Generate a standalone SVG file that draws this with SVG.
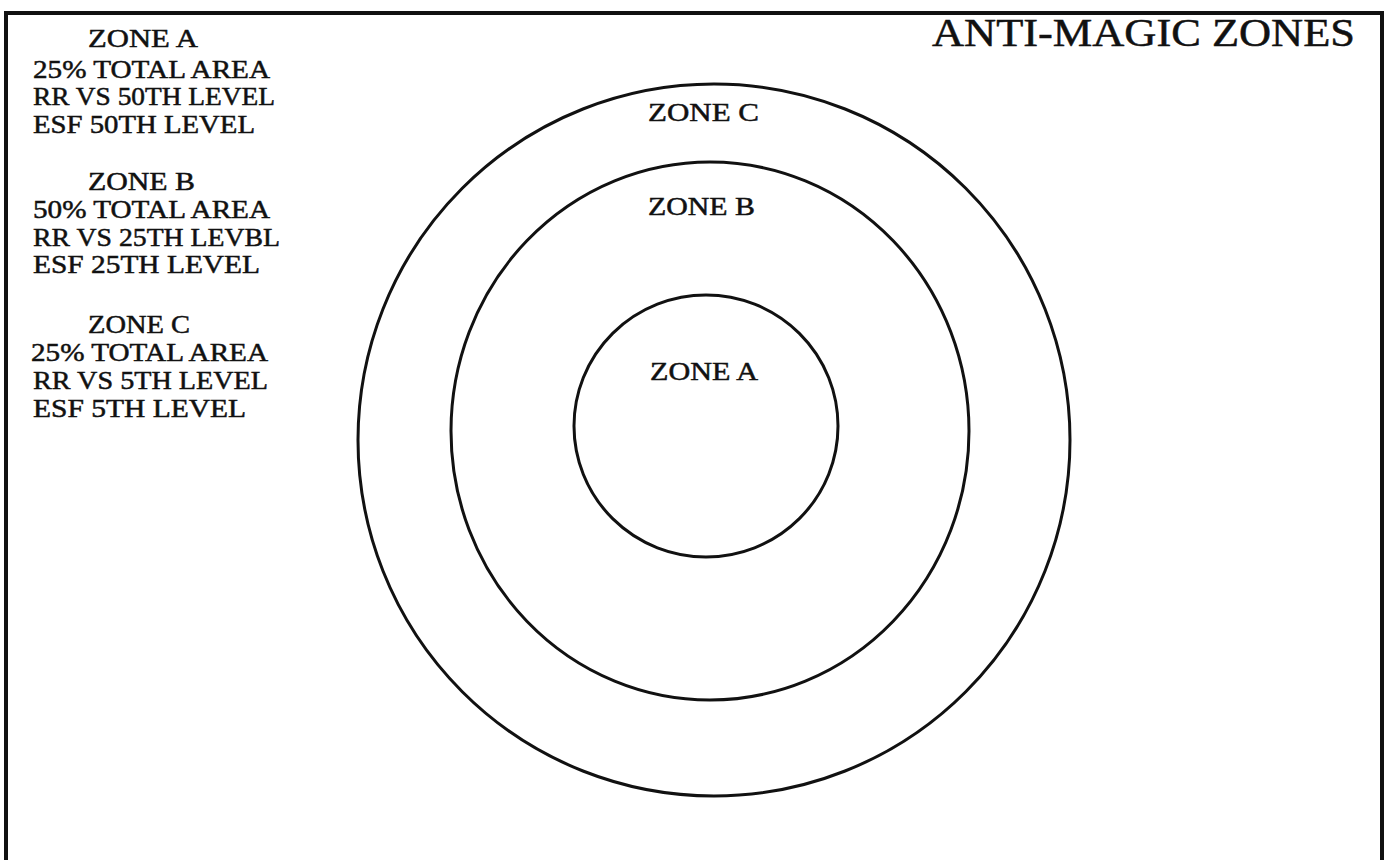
<svg xmlns="http://www.w3.org/2000/svg" width="1391" height="860" viewBox="0 0 1391 860">
<style>
.t{font-family:"Liberation Serif","Times New Roman",serif;font-size:26px;fill:#111;stroke:#111;stroke-width:0.5;}
.c{fill:none;stroke:#111;stroke-width:3;}
.title{font-family:"Liberation Serif","Times New Roman",serif;font-size:40px;fill:#111;stroke:#111;stroke-width:0.5;}
</style>
<rect width="1391" height="860" fill="#fff"/>
<g id="frame">
<path d="M6,860 V13 H1382 V860" fill="none" stroke="#111" stroke-width="4"/>
</g>
<g id="title">
<text class="title" x="932" y="46" textLength="423" lengthAdjust="spacingAndGlyphs">ANTI-MAGIC ZONES</text>
</g>
<g id="legend">
<text class="t" x="88" y="47" textLength="110" lengthAdjust="spacingAndGlyphs">ZONE A</text>
<text class="t" x="33" y="78" textLength="237" lengthAdjust="spacingAndGlyphs">25% TOTAL AREA</text>
<text class="t" x="33" y="105" textLength="242" lengthAdjust="spacingAndGlyphs">RR VS 50TH LEVEL</text>
<text class="t" x="33" y="133" textLength="222" lengthAdjust="spacingAndGlyphs">ESF 50TH LEVEL</text>
<text class="t" x="88" y="190" textLength="107" lengthAdjust="spacingAndGlyphs">ZONE B</text>
<text class="t" x="33" y="218" textLength="237" lengthAdjust="spacingAndGlyphs">50% TOTAL AREA</text>
<text class="t" x="33" y="246" textLength="247" lengthAdjust="spacingAndGlyphs">RR VS 25TH LEVBL</text>
<text class="t" x="33" y="273" textLength="227" lengthAdjust="spacingAndGlyphs">ESF 25TH LEVEL</text>
<text class="t" x="88" y="333" textLength="102" lengthAdjust="spacingAndGlyphs">ZONE C</text>
<text class="t" x="31" y="361" textLength="237" lengthAdjust="spacingAndGlyphs">25% TOTAL AREA</text>
<text class="t" x="33" y="389" textLength="235" lengthAdjust="spacingAndGlyphs">RR VS 5TH LEVEL</text>
<text class="t" x="33" y="417" textLength="213" lengthAdjust="spacingAndGlyphs">ESF 5TH LEVEL</text>
</g>
<g id="zone-c">
<ellipse class="c" cx="714" cy="440" rx="356" ry="356"/>
<text class="t" x="648" y="121" textLength="111" lengthAdjust="spacingAndGlyphs">ZONE C</text>
</g>
<g id="zone-b">
<ellipse class="c" cx="710" cy="431" rx="259" ry="269"/>
<text class="t" x="648" y="215" textLength="107" lengthAdjust="spacingAndGlyphs">ZONE B</text>
</g>
<g id="zone-a">
<ellipse class="c" cx="706" cy="426" rx="132" ry="131"/>
<text class="t" x="650" y="380" textLength="108" lengthAdjust="spacingAndGlyphs">ZONE A</text>
</g>
<g id="connectors"/>
</svg>
